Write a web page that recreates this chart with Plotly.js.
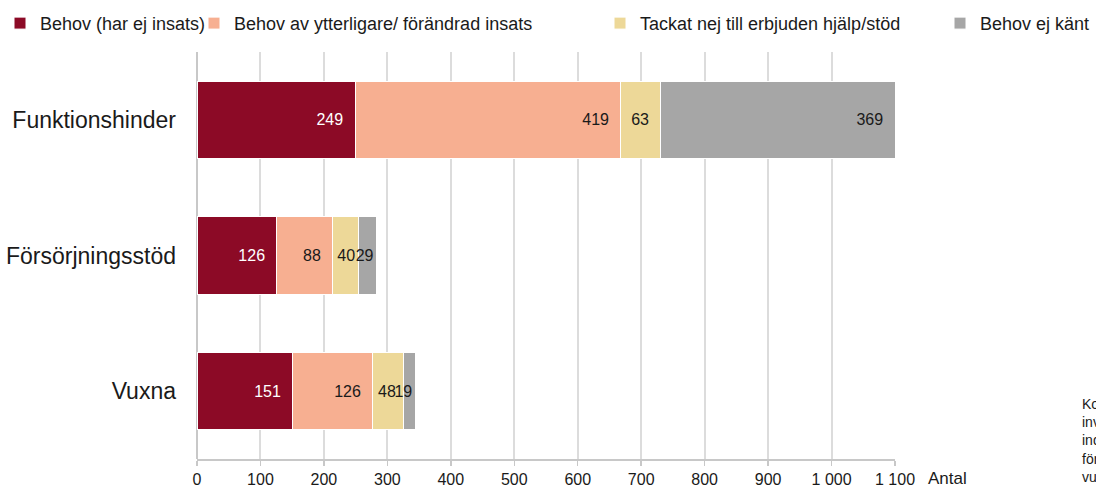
<!DOCTYPE html>
<html>
<head>
<meta charset="utf-8">
<script src="https://cdn.plot.ly/plotly-3.0.1.min.js"></script>
<style>
  html, body { margin: 0; padding: 0; background: #fff; }
  #chart { width: 1096px; height: 490px; }
</style>
</head>
<body>
<div id="chart"></div>
<script>
// categories, top to bottom
var categories = ['Funktionshinder', 'Försörjningsstöd', 'Vuxna'];

// series values (antal)
var behovUtanInsats = [249, 126, 151];
var behovYtterligare = [419, 88, 126];
var tackatNej = [63, 40, 48];
var behovEjKant = [369, 29, 19];

var seriesNames = ['Behov (har ej insats)', 'Behov av ytterligare/ förändrad insats',
  'Tackat nej till erbjuden hjälp/stöd', 'Behov ej känt'];
var seriesColors = ['#8C0A26', '#F7AF91', '#EDD898', '#A6A6A6'];
var labelColors = ['#ffffff', '#1a1a1a', '#1a1a1a', '#1a1a1a'];

var xTicks = [0, 100, 200, 300, 400, 500, 600, 700, 800, 900, 1000, 1100];

var FONT = '"Liberation Sans", Arial, sans-serif';
var W = 1096;

// one legend per series so the entries sit where Excel put them (px from left)
var legendLeft = [0, 194, 600, 940];
var legendIds = ['legend', 'legend2', 'legend3', 'legend4'];

// label padding like Excel "inside end": wider bars get a little space
function labels(vals) {
  return vals.map(function (v) {
    if (v >= 60) return v + '\u00a0\u00a0';
    if (v >= 45) return v + '\u00a0';
    return String(v);
  });
}

var allSeries = [behovUtanInsats, behovYtterligare, tackatNej, behovEjKant];
var data = allSeries.map(function (vals, i) {
  return {
    type: 'bar',
    orientation: 'h',
    name: seriesNames[i],
    legend: legendIds[i],
    y: categories,
    x: vals,
    text: labels(vals),
    textposition: 'inside',
    insidetextanchor: 'end',
    textangle: 0,
    constraintext: 'none',
    cliponaxis: false,
    textfont: {family: FONT, size: 16, color: labelColors[i]},
    marker: {color: seriesColors[i], line: {color: '#ffffff', width: 1}},
    hoverinfo: 'name+x'
  };
});

var layout = {
  width: W,
  height: 490,
  barmode: 'stack',
  bargap: 0.43,
  separators: ', ',
  paper_bgcolor: '#ffffff',
  plot_bgcolor: '#ffffff',
  font: {family: FONT, size: 16, color: '#1a1a1a'},
  margin: {l: 197, r: 201, t: 52, b: 31, autoexpand: false},
  showlegend: true,
  xaxis: {
    range: [0, 1100],
    tickvals: xTicks,
    tickformat: ',d',
    showgrid: true,
    gridcolor: '#DCDCDC',
    gridwidth: 2,
    zeroline: true,
    zerolinecolor: '#C8C8C8',
    zerolinewidth: 2,
    showline: true,
    linecolor: '#C8C8C8',
    linewidth: 2,
    ticks: 'outside',
    ticklen: 5,
    tickwidth: 1.5,
    tickcolor: '#C8C8C8',
    tickfont: {family: FONT, size: 16, color: '#1a1a1a'},
    fixedrange: true
  },
  yaxis: {
    type: 'category',
    autorange: 'reversed',
    showgrid: false,
    zeroline: false,
    showline: false,
    ticks: '',
    ticklabelstandoff: 20,
    tickfont: {family: FONT, size: 23, color: '#1a1a1a'},
    fixedrange: true
  },
  annotations: [
    {
      xref: 'paper', yref: 'paper', x: 1, y: 0,
      xanchor: 'left', yanchor: 'middle',
      xshift: 31, yshift: -19,
      text: 'Antal', showarrow: false,
      font: {family: FONT, size: 17, color: '#1a1a1a'}
    },
    {
      xref: 'paper', yref: 'paper', x: 1.265, y: 0,
      xanchor: 'left', yanchor: 'bottom', align: 'left',
      yshift: -28,
      text: 'Ko<br>inv<br>ind<br>för<br>vu', showarrow: false,
      font: {family: FONT, size: 14, color: '#1a1a1a'}
    }
  ]
};

legendIds.forEach(function (id, i) {
  layout[id] = {
    orientation: 'h',
    xref: 'container', yref: 'container',
    x: legendLeft[i] / W, y: 0.99, xanchor: 'left', yanchor: 'top',
    font: {family: FONT, size: 18, color: '#1a1a1a'},
    bgcolor: 'rgba(0,0,0,0)',
    itemclick: false
  };
});

Plotly.newPlot('chart', data, layout, {displayModeBar: false, staticPlot: true});
</script>
</body>
</html>
